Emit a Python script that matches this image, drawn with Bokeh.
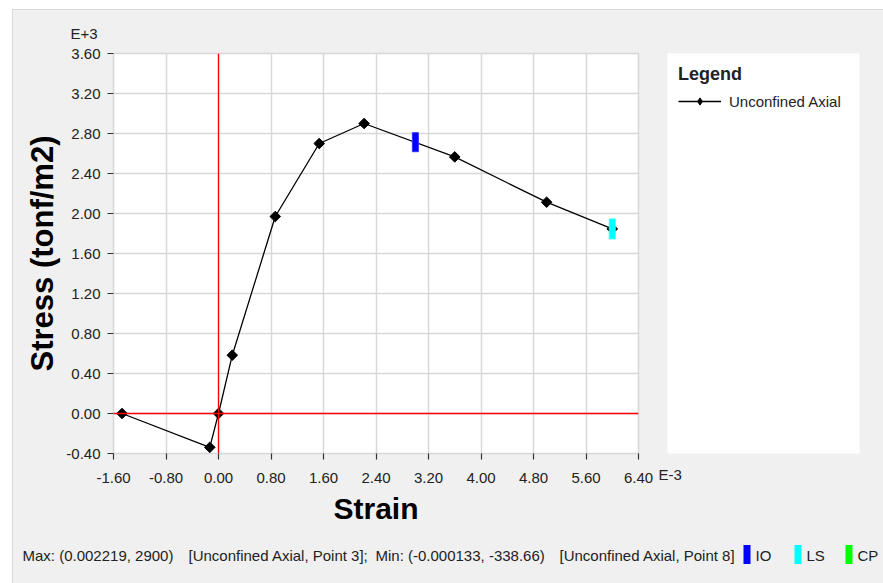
import numpy as np
from bokeh.plotting import figure
from bokeh.layouts import column, row
from bokeh.models import (Range1d, FixedTicker, Span, Title, Legend, LegendItem,
                          NumeralTickFormatter, Div)
from bokeh.core.properties import value
from bokeh.embed import file_html
from bokeh.resources import INLINE

# ---- data (strain in E-3, stress in E+3 tonf/m2) ----
strain = [-1.47, -0.133, 0.0, 0.21, 0.865, 1.535, 2.219, 3.6, 5.0, 6.0]
stress = [0.0, -0.33866, 0.0, 0.583, 1.97, 2.70, 2.90, 2.566, 2.113, 1.846]

io_strain = [3.0]
io_stress = [2.713]
ls_strain = [6.0]
ls_stress = [1.846]

x_ticks = [-1.6, -0.8, 0.0, 0.8, 1.6, 2.4, 3.2, 4.0, 4.8, 5.6, 6.4]
y_ticks = [-0.4, 0.0, 0.4, 0.8, 1.2, 1.6, 2.0, 2.4, 2.8, 3.2, 3.6]

series_name = "Unconfined Axial"
status_parts = ["Max: (0.002219, 2900)", "[Unconfined Axial, Point 3];",
                "Min: (-0.000133, -338.66)", "[Unconfined Axial, Point 8]"]
perf_names = ["IO", "LS", "CP"]
perf_colors = ["#0000ff", "#00ffff", "#00ff00"]

# ---- layout geometry (page pixels) ----
PAGE_W, PAGE_H = 883, 583
OX, OY = 13, 10            # panel content origin
SPLIT_X, SPLIT_Y = 655, 535
FL, FT, FW, FH = 113, 53, 525, 400   # plot frame on the page

FONT = "Liberation Sans"
TXT = "#222222"
BG = "#f0f0f0"
EDGE = "#d8d8d8"

MAIN_W = SPLIT_X - OX
TOP_H = SPLIT_Y - OY

# ---------------- main chart ----------------
p = figure(width=MAIN_W, height=TOP_H, output_backend="svg", toolbar_location=None,
           x_range=Range1d(x_ticks[0], x_ticks[-1]), y_range=Range1d(y_ticks[0], y_ticks[-1]),
           min_border_left=FL - OX, min_border_top=FT - OY,
           min_border_right=MAIN_W - (FL - OX) - FW, min_border_bottom=TOP_H - (FT - OY) - FH)
p.border_fill_color = BG
p.border_fill_alpha = 0
p.background_fill_color = "white"
p.outline_line_color = EDGE
p.outline_line_width = 1.5

for ax in (p.xaxis[0], p.yaxis[0]):
    ax.axis_line_color = None
    ax.major_tick_out = 6
    ax.major_tick_in = 0
    ax.major_tick_line_color = "#333333"
    ax.major_tick_line_width = 1.2
    ax.minor_tick_line_color = None
    ax.major_label_text_font = FONT
    ax.major_label_text_font_size = "15px"
    ax.major_label_text_color = TXT
    ax.formatter = NumeralTickFormatter(format="0.00")
    ax.axis_label_text_font = FONT
    ax.axis_label_text_font_style = "bold"
    ax.axis_label_text_color = "black"
p.xaxis.ticker = FixedTicker(ticks=x_ticks)
p.yaxis.ticker = FixedTicker(ticks=y_ticks)
p.xaxis.major_label_standoff = 13
p.yaxis.major_label_standoff = 7
p.xaxis.axis_label = "Strain"
p.yaxis.axis_label = "Stress (tonf/m2)"
p.xaxis.axis_label_text_font_size = "30px"
p.yaxis.axis_label_text_font_size = "31px"
p.xaxis.axis_label_standoff = 6
p.yaxis.axis_label_standoff = 3

p.grid.grid_line_color = EDGE
p.grid.grid_line_width = 1.5
p.xgrid.ticker = FixedTicker(ticks=x_ticks)
p.ygrid.ticker = FixedTicker(ticks=y_ticks)

p.add_layout(Span(location=0, dimension="height", line_color="#ff0000", line_width=1.3))
p.add_layout(Span(location=0, dimension="width", line_color="#ff0000", line_width=1.3))

line_r = p.line(strain, stress, line_color="black", line_width=1.3)
pts_r = p.scatter(strain, stress, marker="square", angle=np.pi / 4, size=7.5,
                  fill_color="black", line_color="black")

p.rect(io_strain, io_stress, width=6, height=19, width_units="screen", height_units="screen",
       fill_color=perf_colors[0], line_color="#3333ff", line_width=1)
p.rect(ls_strain, ls_stress, width=6, height=20, width_units="screen", height_units="screen",
       fill_color=perf_colors[1], line_color="#33ffff", line_width=1)

p.add_layout(Title(text="E+3", align="left", offset=-43, standoff=24, text_font=FONT,
                   text_font_style="normal", text_font_size="15px", text_color=TXT), "above")

# ---------------- legend panel ----------------
LEG_W = PAGE_W - SPLIT_X
LB_L, LB_R = 667, 859
lg = figure(width=LEG_W, height=TOP_H, output_backend="svg", toolbar_location=None,
            x_range=Range1d(100, 101), y_range=Range1d(100, 101),
            x_axis_location=None, y_axis_location=None,
            min_border_left=LB_L - SPLIT_X, min_border_right=LEG_W - (LB_R - SPLIT_X),
            min_border_top=FT - OY, min_border_bottom=TOP_H - (FT - OY) - FH)
lg.border_fill_color = BG
lg.border_fill_alpha = 0
lg.background_fill_color = "white"
lg.outline_line_color = None
lg.grid.visible = False
# same series drawn off-view: only used for the legend swatch
d_line = lg.line(strain, stress, line_color="black", line_width=1.3)
d_pts = lg.scatter(strain, stress, marker="diamond", size=11,
                   fill_color="black", line_color="black")
legend = Legend(items=[LegendItem(label=series_name, renderers=[d_line, d_pts])],
                title="Legend", location="top_left", padding=0, margin=11,
                background_fill_alpha=0, border_line_color=None,
                title_text_font=FONT, title_text_font_style="bold", title_text_font_size="18px",
                title_text_color=TXT, title_standoff=7,
                label_text_font=FONT, label_text_font_size="15px", label_text_color=TXT,
                glyph_width=43, glyph_height=18, label_standoff=8)
lg.add_layout(legend, "center")
lg.add_layout(Title(text="E-3", align="left", offset=-9, standoff=20, text_font=FONT,
                    text_font_style="normal", text_font_size="15px", text_color=TXT), "below")

# ---------------- status bar ----------------
ST_W = PAGE_W - OX
ST_H = PAGE_H - SPLIT_Y
st = figure(width=ST_W, height=ST_H, output_backend="svg", toolbar_location=None,
            x_range=Range1d(OX, PAGE_W), y_range=Range1d(PAGE_H, SPLIT_Y),
            x_axis_location=None, y_axis_location=None,
            min_border_left=0, min_border_right=0, min_border_top=0, min_border_bottom=0)
st.border_fill_color = BG
st.border_fill_alpha = 0
st.background_fill_color = BG
st.background_fill_alpha = 0
st.outline_line_color = None
st.grid.visible = False

status_x = [22, 188, 375, 559]
status_y = 555
st.text(x=status_x, y=[status_y] * len(status_x), text=status_parts,
        text_font=value(FONT), text_font_size="15px", text_color=TXT,
        text_baseline="middle", text_align="left")
sw_x = [743, 794, 845]
st.quad(left=sw_x, right=[v + 7 for v in sw_x], top=[544.5] * 3, bottom=[563.5] * 3,
        fill_color=perf_colors, line_color=None)
st.text(x=[v + 12 for v in sw_x], y=[status_y] * 3, text=perf_names,
        text_font=value(FONT), text_font_size="15px", text_color=TXT,
        text_baseline="middle", text_align="left")

# ---------------- page frame ----------------
def block(w, h, color):
    return Div(text="", width=w, height=h, margin=0,
               styles={"background-color": color})

content = column(row(p, lg, spacing=0), st, spacing=0,
                 styles={"background-color": BG})
right_part = column(block(PAGE_W - OX + 1, OY - 1, "white"),
                    block(PAGE_W - OX + 1, 1, EDGE),
                    row(block(1, PAGE_H - OY, EDGE), content, spacing=0),
                    spacing=0)
layout = row(block(OX - 1, PAGE_H, "white"), right_part, spacing=0)

html = file_html(layout, INLINE)
html = html.replace("</head>",
                    "<style>html, body { background-color: %s; }</style></head>" % BG, 1)
open("out.html", "w").write(html)
